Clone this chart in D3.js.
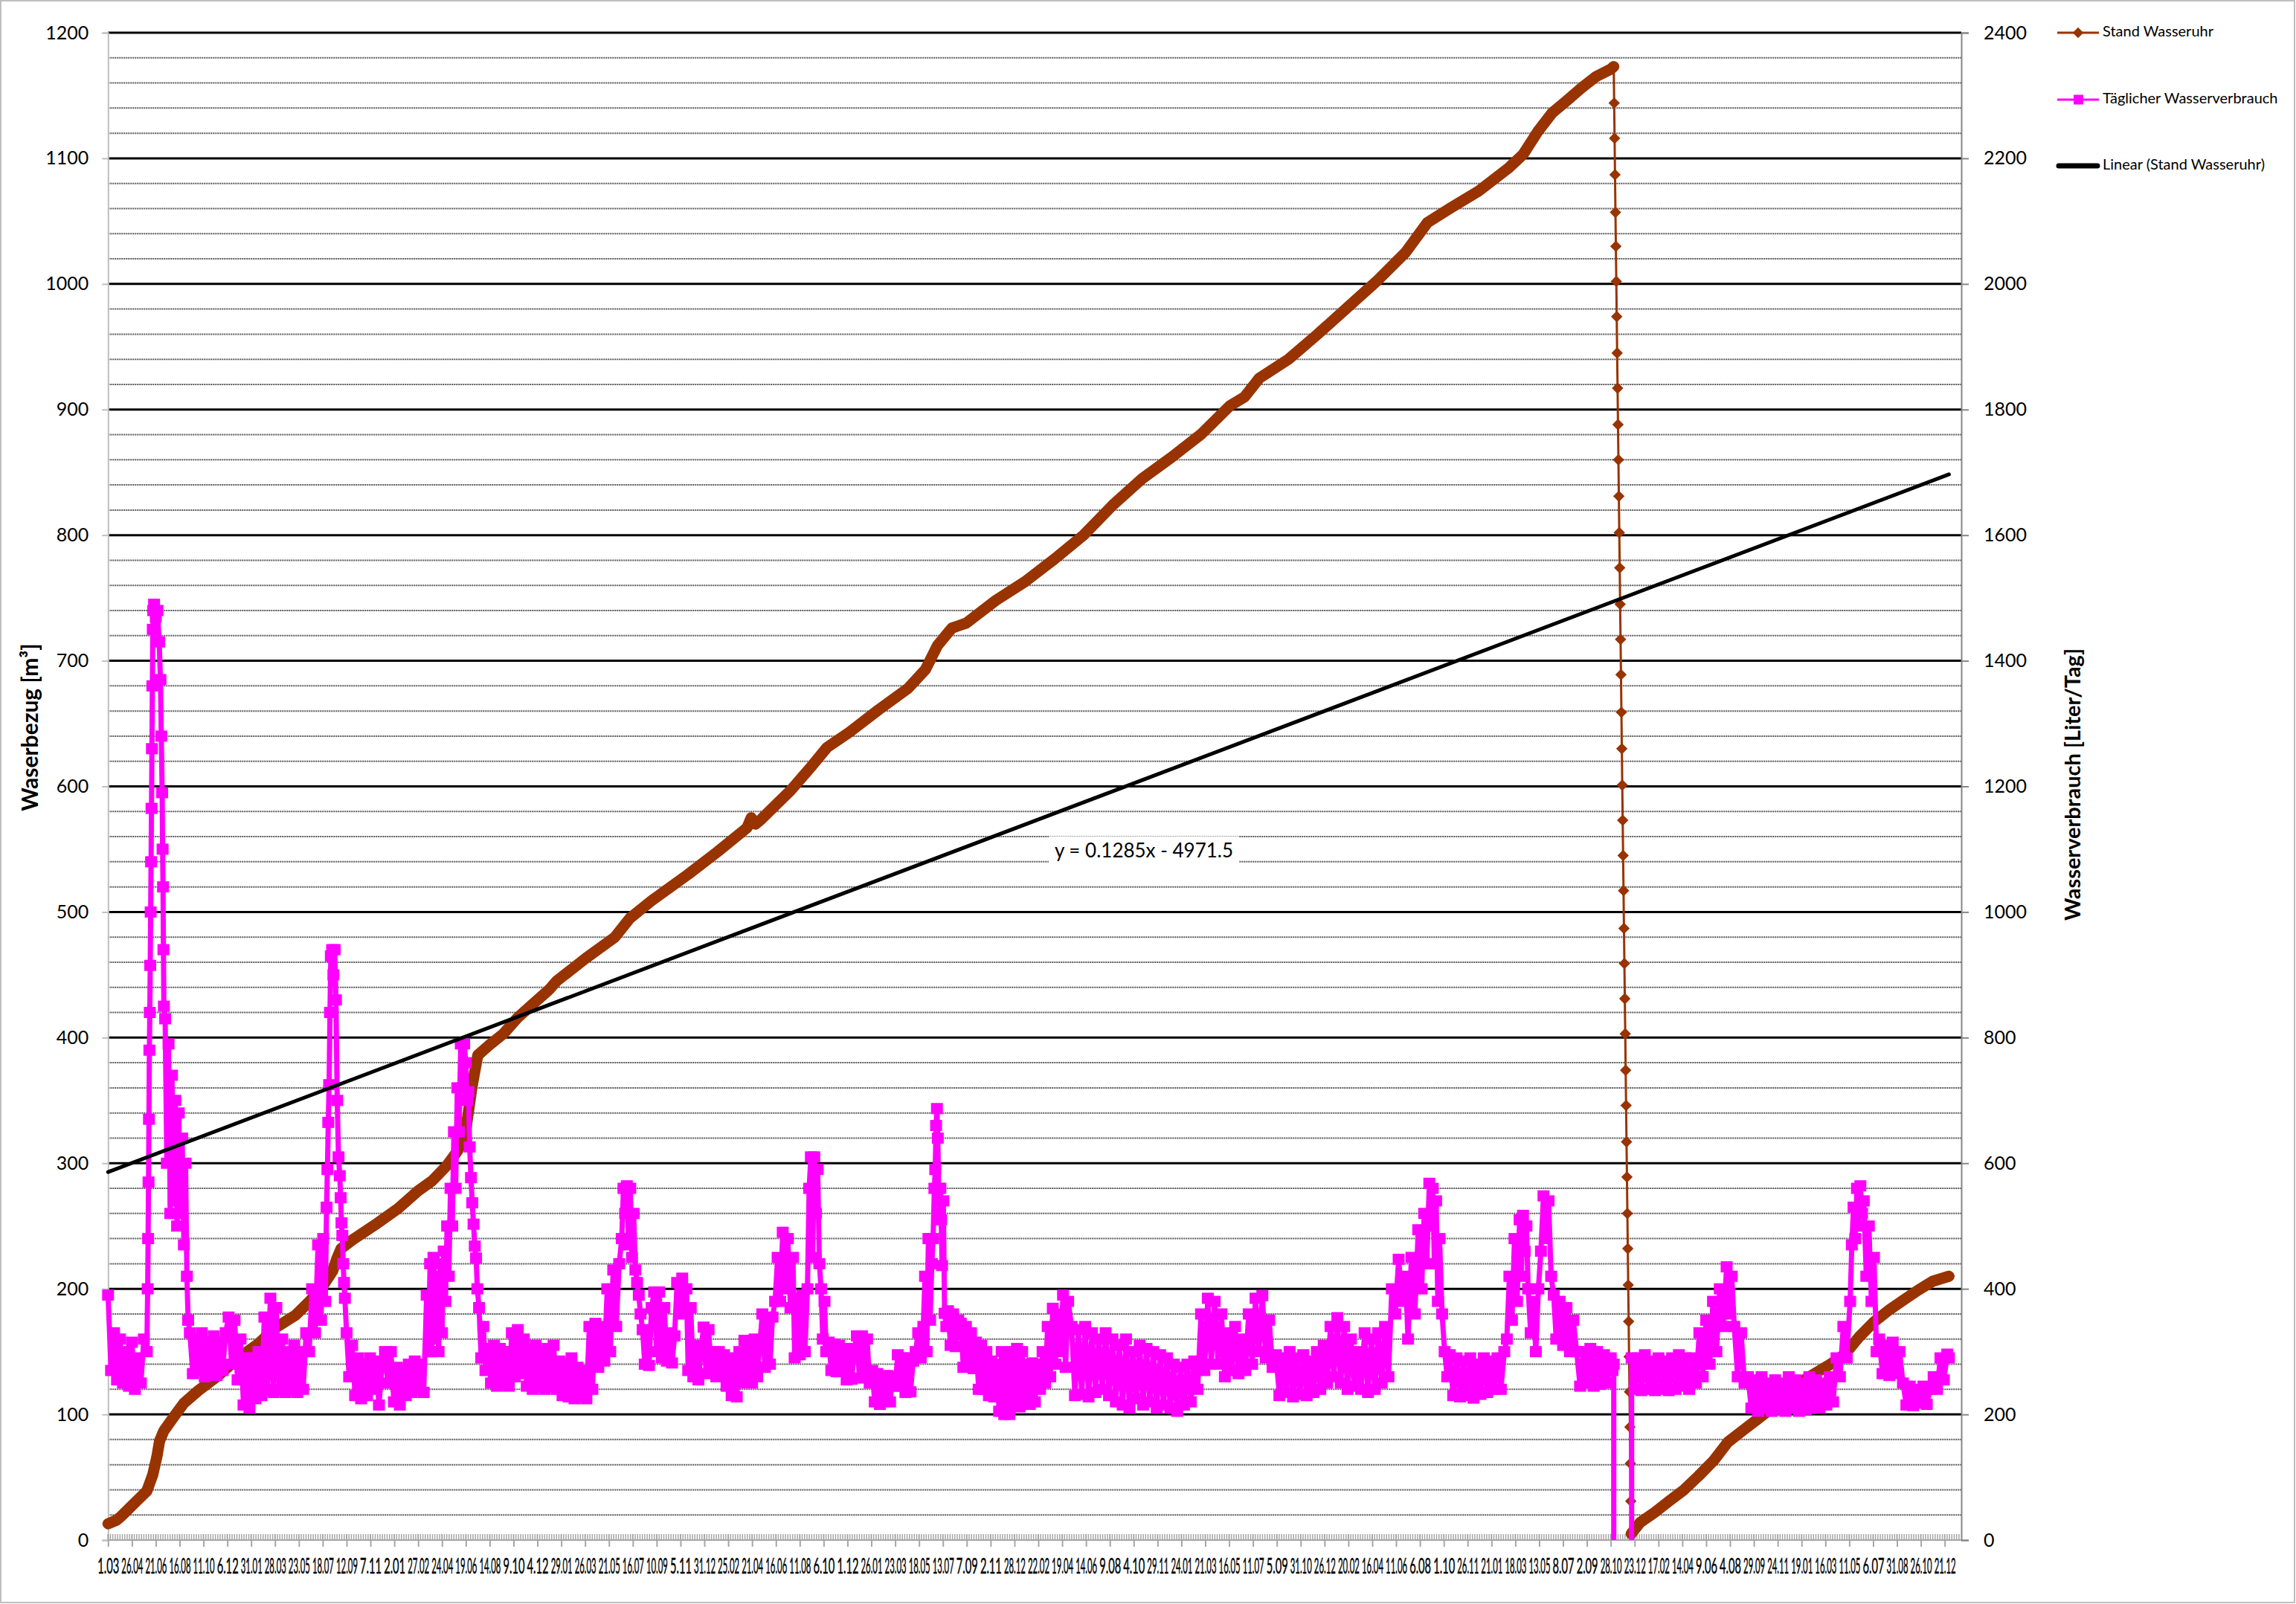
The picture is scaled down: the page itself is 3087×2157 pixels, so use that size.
<!DOCTYPE html>
<html><head><meta charset="utf-8">
<script src="https://cdn.jsdelivr.net/npm/d3@7"></script>
<style>body{margin:0;background:#fff}svg{display:block;font-family:Lato,"Open Sans",sans-serif}</style>
</head><body><svg id="c" width="3087" height="2157"></svg>
<script>
// ---- data ----
// x values: days since 1.03.2012 (Excel serial 40969)
const excelSerialStart = 40969;
const xMaxTag = 4351;
const tickAbstandTage = 56;
const xLabels = ["1.03","26.04","21.06","16.08","11.10","6.12","31.01","28.03","23.05","18.07","12.09","7.11","2.01","27.02","24.04","19.06","14.08","9.10","4.12","29.01","26.03","21.05","16.07","10.09","5.11","31.12","25.02","21.04","16.06","11.08","6.10","1.12","26.01","23.03","18.05","13.07","7.09","2.11","28.12","22.02","19.04","14.06","9.08","4.10","29.11","24.01","21.03","16.05","11.07","5.09","31.10","26.12","20.02","16.04","11.06","6.08","1.10","26.11","21.01","18.03","13.05","8.07","2.09","28.10","23.12","17.02","14.04","9.06","4.08","29.09","24.11","19.01","16.03","11.05","6.07","31.08","26.10","21.12"];
const linksTicks = [0,100,200,300,400,500,600,700,800,900,1000,1100,1200];
const rechtsTicks = [0,200,400,600,800,1000,1200,1400,1600,1800,2000,2200,2400];
const trendSteigung = 0.1285, trendAchse = -4971.5;
const trendText = "y = 0.1285x - 4971.5";
const legende = ["Stand Wasseruhr","Täglicher Wasserverbrauch","Linear (Stand Wasseruhr)"];

// Stand Wasseruhr [m³] before meter change
const standVor = [[0,13],[21,16],[31,19],[58,28],[91,39],[105,52],[115,67],[121,79],[131,87],[152,97],[178,109],[212,119],[259,131],[306,145],[352,156],[393,169],[440,179],[473,190],[500,200],[527,214],[537,224],[547,232],[574,239],[627,251],[681,264],[728,278],[761,286],[795,298],[821,310],[838,322],[855,362],[868,386],[895,394],[928,403],[962,416],[995,426],[1035,438],[1053,445],[1121,463],[1190,480],[1225,495],[1276,509],[1362,530],[1431,548],[1500,567],[1510,575],[1520,570],[1534,574],[1603,597],[1654,617],[1688,631],[1740,643],[1809,661],[1878,678],[1919,693],[1947,712],[1981,726],[1998,728],[2015,730],[2084,748],[2153,763],[2222,781],[2290,800],[2359,824],[2428,845],[2497,862],[2565,880],[2634,903],[2668,910],[2703,925],[2771,940],[2840,960],[2909,981],[2978,1002],[3046,1025],[3098,1049],[3150,1060],[3218,1074],[3287,1092],[3322,1103],[3356,1121],[3390,1136],[3425,1146],[3459,1156],[3493,1165],[3528,1171],[3535,1173]];
// daily readings during the meter change (days 3536..3576)
const wechselStartTag = 3536;
const wechselWerte = [1144,1116,1087,1057,1030,1002,974,945,917,888,860,831,802,774,745,717,689,659,630,601,573,545,517,487,459,431,403,374,346,317,289,260,232,203,174,146,118,90,61,31,5];
// after meter change
const standNach = [[3597,14],[3631,22],[3665,31],[3700,40],[3734,51],[3769,63],[3803,78],[3837,87],[3872,96],[3906,105],[3940,115],[3975,126],[4009,133],[4044,140],[4078,148],[4112,162],[4147,174],[4181,183],[4215,191],[4250,199],[4284,206],[4322,210]];

// Täglicher Wasserverbrauch [Liter/Tag]
const verbrauch = [[0,390],[7,270],[14,330],[21,255],[28,320],[35,250],[42,300],[49,245],[56,315],[63,240],[70,290],[77,250],[84,320],[91,300],
[93,400],[94,480],[95,570],[96,670],[97,780],[98,840],[99,915],[100,1000],[101,1080],[102,1165],[103,1260],[104,1360],[105,1450],[106,1480],
[108,1490],[112,1470],[116,1480],[120,1430],[123,1370],[125,1280],[127,1190],[128,1100],[129,1040],[130,940],[131,850],
[134,830],[138,600],[142,790],[146,520],[150,740],[154,540],[158,700],[162,500],[166,680],[170,520],[174,640],[178,470],[182,600],[185,420],[188,350],
[192,330],[199,265],[206,320],[213,270],[220,330],[227,260],[234,315],[241,265],[248,325],[255,262],[262,315],[269,270],[276,330],
[283,355],[290,280],[297,350],[304,255],[311,320],[318,215],[325,290],[332,210],[339,290],[346,225],[353,300],[360,230],
[367,355],[374,240],[381,385],[388,235],[395,370],[402,240],[409,320],[416,235],[423,300],[430,240],[437,310],[444,235],[451,300],[458,240],
[465,330],[472,300],[479,400],[486,330],[493,470],[500,350],[505,480],[510,380],[513,530],[515,590],
[517,665],[519,725],[521,840],[523,930],[526,940],[529,900],[532,940],[535,860],[538,700],[541,610],[544,580],[546,545],[548,505],[550,485],[552,440],[554,410],[556,385],
[560,330],[566,260],[573,310],[580,230],[587,290],[594,225],[601,280],[608,230],[615,290],[622,240],[629,285],[636,215],[643,275],
[650,300],[657,250],[664,300],[671,220],[678,275],[685,215],[692,270],[699,230],[706,280],[713,235],[720,285],[727,240],[734,280],[741,235],[748,390],[752,300],
[756,440],[760,300],[764,450],[768,320],[772,420],[776,300],[780,440],[784,330],
[788,460],[792,380],[796,500],[800,420],[804,560],[808,500],[812,650],[816,560],[820,720],[824,650],
[828,790],[832,720],[836,790],[840,760],[843,700],
[846,714],[849,626],[852,577],[855,537],[858,503],[861,468],[864,449],[867,400],
[871,370],[876,290],[881,340],[886,270],
[892,305],[899,250],[906,310],[913,245],[920,305],[927,250],[934,300],[941,245],[948,330],[955,260],[962,335],[969,265],[976,320],[983,245],[990,305],[997,240],[1004,310],[1011,245],[1018,300],[1025,240],[1032,305],[1039,245],
[1046,310],[1053,240],[1060,285],[1067,230],[1074,280],[1081,228],[1088,290],[1095,225],[1102,275],[1109,228],[1116,270],[1123,225],
[1130,340],[1137,240],[1144,345],[1151,275],[1158,340],[1165,285],[1172,400],[1179,300],[1186,430],[1193,340],[1200,440],
[1206,480],[1210,560],[1214,520],[1218,564],[1222,470],[1226,560],[1230,450],[1234,520],[1238,430],[1242,410],[1246,390],[1250,360],
[1255,335],[1260,280],[1265,330],[1270,278],[1276,370],[1282,395],[1288,300],[1294,395],[1300,290],[1306,370],
[1312,285],[1318,330],[1324,282],[1330,325],[1336,410],[1342,360],[1348,417],[1354,370],[1358,400],[1362,270],[1368,370],[1374,260],
[1380,310],[1386,255],[1392,300],[1398,339],[1404,265],[1410,335],[1416,268],[1422,300],[1428,260],[1434,300],[1440,262],[1446,295],
[1452,245],[1458,290],[1464,230],[1470,285],[1476,228],[1482,300],[1488,250],[1494,318],[1500,255],[1506,315],[1512,250],[1518,320],[1524,260],[1530,310],
[1536,360],[1542,275],[1548,345],[1554,280],[1560,355],[1566,380],[1572,450],[1578,380],[1584,490],[1590,400],[1596,480],[1602,370],[1608,450],[1612,290],
[1618,385],[1624,295],[1630,390],[1636,300],[1642,400],[1646,560],[1650,610],[1654,450],[1658,610],[1662,520],[1666,590],[1670,440],
[1674,400],[1678,320],[1682,380],[1686,300],[1692,315],[1698,270],[1704,312],[1710,268],[1716,310],[1722,270],
[1728,305],[1734,255],[1740,300],[1746,256],[1752,305],[1758,325],[1764,258],[1770,325],[1776,260],[1782,320],
[1788,250],[1794,270],[1800,220],[1806,265],[1812,216],[1818,250],[1824,225],[1830,262],[1836,220],[1842,260],
[1848,245],[1854,295],[1860,245],[1866,290],[1872,235],[1878,290],[1884,236],[1890,285],[1896,300],[1902,330],[1908,290],[1914,340],
[1918,420],[1922,300],[1926,480],[1930,350],[1934,440],[1937,480],[1940,560],[1942,590],[1944,660],[1946,687],[1948,640],[1950,560],[1952,520],[1954,560],[1956,510],
[1958,437],[1961,540],[1964,361],[1968,340],[1972,365],[1978,310],[1984,360],[1990,308],[1996,350],
[2002,345],[2008,275],[2014,340],[2020,280],[2026,330],[2032,273],[2038,315],[2044,240],[2050,310],[2056,240],[2062,300],
[2068,230],[2074,285],[2080,228],[2086,280],[2092,205],[2098,300],[2104,200],[2110,290],[2116,200],[2122,300],
[2128,215],[2134,305],[2140,212],[2146,300],[2152,218],[2158,280],[2164,216],[2170,282],[2176,220],[2182,280],
[2188,240],[2194,300],[2200,250],[2206,340],[2212,260],[2218,369],[2224,280],[2230,360],[2236,300],[2242,390],[2248,275],[2254,380],
[2262,340],[2270,230],[2278,335],[2286,232],[2294,340],[2302,228],[2310,330],[2318,235],[2326,320],[2334,240],[2342,330],[2350,230],
[2358,320],[2366,220],[2374,310],[2382,215],[2390,320],[2398,210],[2406,300],[2414,225],[2422,310],[2430,215],[2438,305],[2446,220],[2454,300],[2462,210],[2470,295],[2478,215],[2486,290],[2494,210],
[2502,280],[2510,205],[2518,275],[2526,215],[2534,280],[2542,220],[2550,285],[2558,240],[2566,360],[2574,270],[2582,385],[2590,280],[2598,380],
[2606,280],[2614,360],[2622,260],[2630,330],[2638,270],[2646,340],[2654,265],[2662,320],[2670,270],[2678,360],[2686,280],[2694,385],[2702,300],[2710,389],[2718,290],[2726,350],[2734,275],
[2742,295],[2750,230],[2758,290],[2766,235],[2774,300],[2782,228],[2790,290],[2798,232],[2806,295],[2814,230],[2822,285],[2830,235],[2838,300],[2846,240],[2854,310],
[2862,250],[2870,340],[2878,260],[2886,354],[2894,250],[2902,340],[2910,240],[2918,320],[2926,245],[2934,300],
[2942,240],[2950,330],[2958,235],[2966,320],[2974,240],[2982,330],[2990,250],[2998,340],[3006,260],
[3014,400],[3022,360],[3030,447],[3038,380],[3046,420],[3052,320],[3060,450],[3068,360],[3076,494],[3084,400],[3090,520],[3096,440],[3102,568],[3106,500],[3110,560],
[3114,440],[3118,540],[3122,380],[3126,480],[3132,360],[3138,300],[3144,260],
[3150,295],[3158,230],[3166,290],[3174,228],[3182,285],[3190,230],[3198,290],[3206,226],[3214,280],[3222,232],[3230,290],[3238,235],[3246,285],[3254,240],[3262,290],[3270,240],[3278,300],
[3284,320],[3290,420],[3296,350],[3302,480],[3308,380],[3314,510],[3318,420],[3322,517],[3326,460],[3330,500],
[3334,400],[3340,330],[3346,380],[3352,300],[3358,400],[3364,460],[3370,548],[3376,480],[3382,540],[3388,420],
[3394,390],[3400,320],[3408,380],[3416,310],[3424,370],[3432,300],[3440,350],
[3448,300],[3456,245],[3464,300],[3472,250],[3480,305],[3488,245],[3496,300],[3504,248],[3512,295],[3520,250],[3528,290],[3532,270],[3535,280],
[3536,-28500],[3576,-28500],
[3577,290],[3584,240],[3592,290],[3600,238],[3608,295],[3616,240],[3624,285],[3632,238],[3640,290],[3648,240],[3656,285],[3664,238],[3672,290],[3680,240],[3688,295],[3696,245],[3704,290],[3712,240],[3720,290],[3728,250],
[3736,330],[3744,260],[3752,350],[3760,280],[3768,380],[3776,300],[3784,400],[3792,340],[3800,435],[3806,360],[3812,420],
[3818,340],[3826,260],[3834,330],[3842,250],
[3850,260],[3858,210],[3866,255],[3874,205],[3882,260],[3890,210],[3898,250],[3906,205],[3914,255],[3922,208],[3930,250],[3938,205],[3946,260],[3954,210],[3962,255],[3970,205],[3978,250],[3986,208],[3994,260],[4002,210],[4010,255],[4018,210],[4026,250],[4034,215],[4042,260],[4050,220],
[4058,290],[4066,260],[4074,340],[4082,290],[4090,380],[4094,470],[4098,530],[4102,480],[4106,560],[4110,500],[4114,564],[4118,520],
[4122,540],[4128,420],[4134,500],[4140,380],[4146,450],[4152,300],
[4158,320],[4166,265],[4174,310],[4182,262],[4190,315],[4198,265],[4206,300],
[4214,250],[4222,215],[4230,245],[4238,214],[4246,240],[4254,218],[4262,245],[4270,216],[4278,240],
[4286,260],[4294,240],[4302,290],[4310,255],[4318,296],[4322,290]];

// ---- chart ----
const BROWN = "#993300", PINK = "#ff00ff";
const FONT = "Lato";
const svg = d3.select("#c");
const P = {l:145.3, r:2637, t:44, b:2071};
const x = d3.scaleLinear().domain([0, xMaxTag]).range([P.l, P.r]);
const yL = d3.scaleLinear().domain([0, 1200]).range([P.b, P.t]);
const yR = d3.scaleLinear().domain([0, 2400]).range([P.b, P.t]);

svg.append("rect").attr("x",1).attr("y",1).attr("width",3084).attr("height",2154)
  .attr("fill","#fff").attr("stroke","#bfbfbf").attr("stroke-width",2);

// gridlines
const minorVals = d3.range(20, 1200, 20).filter(v => v % 100 !== 0);
svg.append("g").selectAll("line").data(minorVals).join("line")
  .attr("x1",P.l).attr("x2",P.r).attr("y1",d=>yL(d)).attr("y2",d=>yL(d))
  .attr("stroke","#5a5a5a").attr("stroke-width",2).attr("stroke-dasharray","2,1");
svg.append("g").selectAll("line").data(linksTicks.filter(v=>v>0)).join("line")
  .attr("x1",P.l).attr("x2",P.r).attr("y1",d=>yL(d)).attr("y2",d=>yL(d))
  .attr("stroke","#000").attr("stroke-width",3);

// left axis
const gL = svg.append("g").attr("transform",`translate(${P.l},0)`)
  .call(d3.axisLeft(yL).tickValues(linksTicks).tickFormat(d3.format("d")).tickSize(8).tickPadding(18));
gL.select(".domain").attr("stroke","#bfbfbf").attr("stroke-width",2);
gL.selectAll(".tick line").attr("stroke","#bfbfbf").attr("stroke-width",2);
gL.selectAll("text").attr("font-size",25).attr("font-family",FONT).attr("fill","#000");

// right axis
const gR = svg.append("g").attr("transform",`translate(${P.r},0)`)
  .call(d3.axisRight(yR).tickValues(rechtsTicks).tickFormat(d3.format("d")).tickSize(10).tickPadding(20));
gR.select(".domain").attr("stroke","#868686").attr("stroke-width",2);
gR.selectAll(".tick line").attr("stroke","#868686").attr("stroke-width",2);
gR.selectAll("text").attr("font-size",25).attr("font-family",FONT).attr("fill","#000");

// x axis
const majorTage = xLabels.map((_, i) => i * tickAbstandTage);
const minorTage = d3.range(0, xMaxTag, tickAbstandTage / 10).filter((d, i) => i % 10 !== 0);
svg.append("g").selectAll("line").data(minorTage).join("line")
  .attr("x1",d=>x(d)).attr("x2",d=>x(d)).attr("y1",P.b-8).attr("y2",P.b)
  .attr("stroke","#a6a6a6").attr("stroke-width",1.5);
svg.append("g").selectAll("line").data(majorTage).join("line")
  .attr("x1",d=>x(d)).attr("x2",d=>x(d)).attr("y1",P.b-8).attr("y2",P.b)
  .attr("stroke","#a6a6a6").attr("stroke-width",2);
const gX = svg.append("g").attr("transform",`translate(0,${P.b})`)
  .call(d3.axisBottom(x).tickValues(majorTage).tickSize(9).tickPadding(16)
    .tickFormat((d, i) => xLabels[i]));
gX.select(".domain").attr("stroke","#a6a6a6").attr("stroke-width",2).attr("d",`M${P.l},0H${P.r}`);
gX.selectAll(".tick line").attr("stroke","#a6a6a6").attr("stroke-width",2);
gX.selectAll("text").attr("font-size",28).attr("font-family",FONT).attr("fill","#000")
  .attr("stroke","#000").attr("stroke-width",0.5)
  .each(function(){
    const w = this.getComputedTextLength();
    const s = Math.min(1, 29 / w);
    d3.select(this).attr("transform", `scale(${s},1)`);
  });

// axis titles
svg.append("text").attr("transform","translate(43,978) rotate(-90)")
  .attr("text-anchor","middle").attr("dominant-baseline","middle").attr("font-family",FONT)
  .attr("font-size",30).attr("font-weight","bold").text("Waserbezug [m³]");
svg.append("text").attr("transform","translate(2790,1055) rotate(-90)")
  .attr("text-anchor","middle").attr("dominant-baseline","middle").attr("font-family",FONT)
  .attr("font-size",29).attr("font-weight","bold").text("Wasserverbrauch [Liter/Tag]");

// clip to plot area
svg.append("clipPath").attr("id","clip").append("rect")
  .attr("x",P.l-20).attr("y",P.t-20).attr("width",P.r-P.l+40).attr("height",P.b-P.t+20);
const plot = svg.append("g").attr("clip-path","url(#clip)");
const lineL = d3.line().x(d=>x(d[0])).y(d=>yL(d[1]));
const lineR = d3.line().x(d=>x(d[0])).y(d=>yR(d[1]));

// brown series: Stand Wasseruhr
const wechsel = wechselWerte.map((v, i) => [wechselStartTag + i, v]);
const standAlle = standVor.concat(wechsel, standNach);
[standVor, [wechsel[wechsel.length-1]].concat(standNach)].forEach(seg => {
  plot.append("path").datum(seg).attr("d",lineL).attr("fill","none")
    .attr("stroke",BROWN).attr("stroke-width",15).attr("stroke-linejoin","round").attr("stroke-linecap","round");
});
plot.append("path").datum(standAlle).attr("d",lineL).attr("fill","none")
  .attr("stroke",BROWN).attr("stroke-width",3);
const diamond = d3.symbol().type(d3.symbolDiamond2).size(150);
plot.append("g").selectAll("path").data(standAlle).join("path")
  .attr("transform",d=>`translate(${x(d[0])},${yL(d[1])})`).attr("d",diamond).attr("fill",BROWN);

// pink series (secondary axis): Täglicher Wasserverbrauch
plot.append("path").datum(verbrauch).attr("d",lineR).attr("fill","none")
  .attr("stroke",PINK).attr("stroke-width",7).attr("stroke-linejoin","round");
plot.append("g").selectAll("rect").data(verbrauch.filter(d=>d[1]>=0)).join("rect")
  .attr("x",d=>x(d[0])-8).attr("y",d=>yR(d[1])-7.5).attr("width",16).attr("height",15).attr("fill",PINK);

// linear trend line
const tEnds = [0, standNach[standNach.length-1][0]];
plot.append("path").datum(tEnds.map(d=>[d, trendSteigung*(excelSerialStart+d)+trendAchse]))
  .attr("d",lineL).attr("fill","none").attr("stroke","#000").attr("stroke-width",5).attr("stroke-linecap","round");

// trend label
const tl = svg.append("g");
const tt = tl.append("text").attr("x",1538).attr("y",1146).attr("text-anchor","middle")
  .attr("dominant-baseline","middle").attr("font-family",FONT).attr("font-size",26).text(trendText);
const bb = tt.node().getBBox();
tl.insert("rect","text").attr("x",bb.x-8).attr("y",bb.y-2).attr("width",bb.width+16).attr("height",bb.height+4).attr("fill","#fff");

// legend
const lg = svg.append("g");
const ly = [44,134,223];
lg.append("line").attr("x1",2766).attr("x2",2822).attr("y1",ly[0]).attr("y2",ly[0]).attr("stroke",BROWN).attr("stroke-width",3);
lg.append("path").attr("transform",`translate(2794,${ly[0]})`).attr("d",d3.symbol().type(d3.symbolDiamond2).size(130)()).attr("fill",BROWN);
lg.append("line").attr("x1",2766).attr("x2",2822).attr("y1",ly[1]).attr("y2",ly[1]).attr("stroke",PINK).attr("stroke-width",3);
lg.append("rect").attr("x",2788).attr("y",ly[1]-6.5).attr("width",13).attr("height",13).attr("fill",PINK);
lg.append("line").attr("x1",2768).attr("x2",2820).attr("y1",ly[2]).attr("y2",ly[2]).attr("stroke","#000").attr("stroke-width",7).attr("stroke-linecap","round");
legende.forEach((t,i)=>lg.append("text").attr("x",2827).attr("y",ly[i]).attr("dominant-baseline","middle")
  .attr("font-family",FONT).attr("font-size",20).text(t));
</script></body></html>
